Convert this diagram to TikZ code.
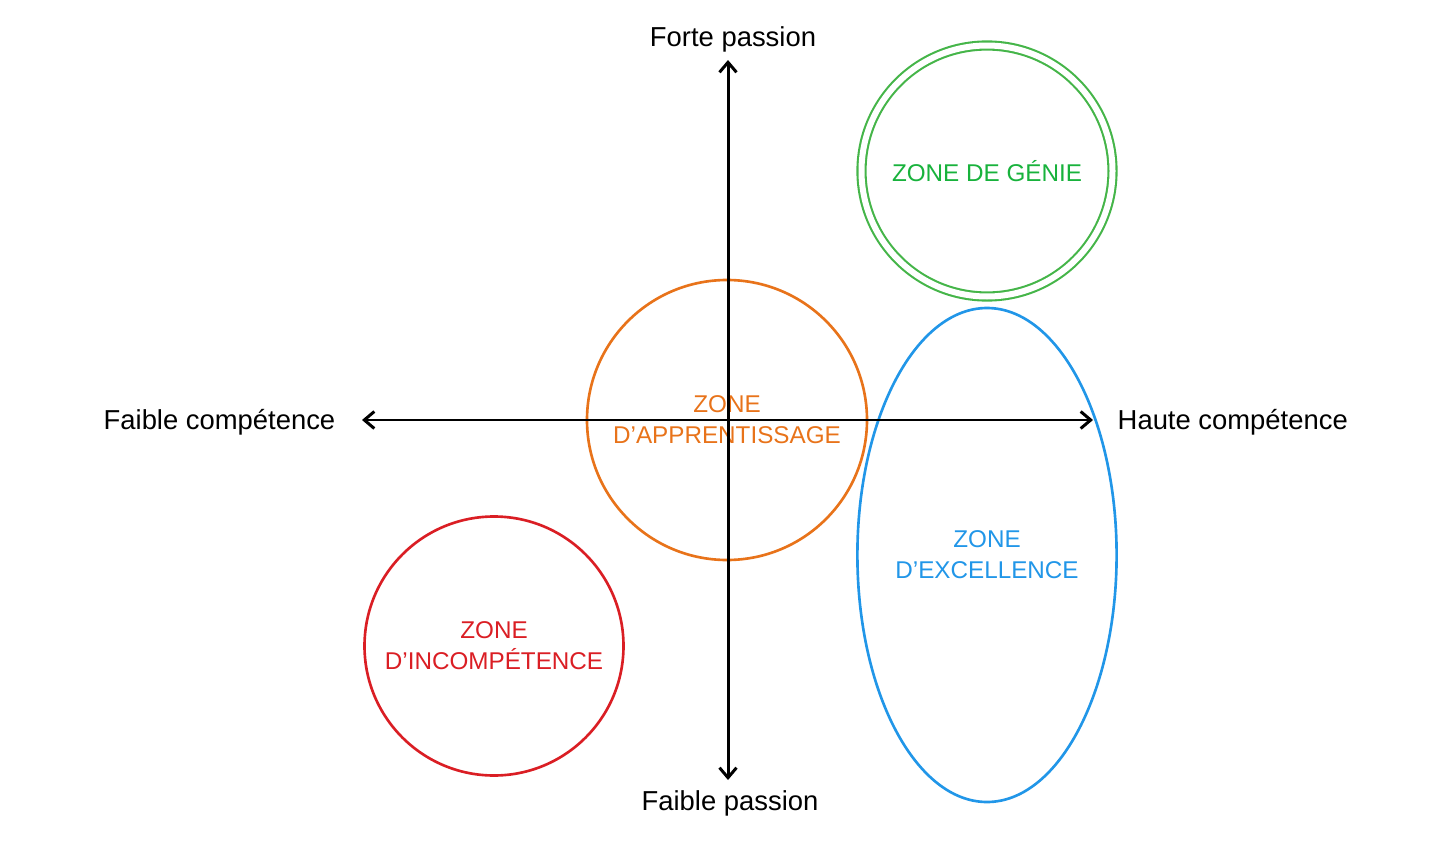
\documentclass[tikz,border=0pt]{standalone}
\usepackage{fontspec}
\setmainfont{Liberation Sans}
\usetikzlibrary{arrows.meta, shapes.geometric}
\tikzset{>={Straight Barb[length=1mm,width=1.7mm]}}
\definecolor{zoneOrange}{HTML}{E8731A}
\definecolor{zoneRed}{HTML}{DA1E24}
\definecolor{zoneGreen}{HTML}{45B549}
\definecolor{zoneGreenText}{HTML}{18B23C}
\definecolor{zoneBlue}{HTML}{2196E8}

\begin{document}
\begin{tikzpicture}[
    x = 0.1mm, y = -0.1mm,
    axis/.style = {line width = 0.85pt, <->},
    axis_label/.style = {inner sep = 0pt, font = \fontsize{7.8}{9}\selectfont},
    zone/.style = {line width = 0.75pt, align = center, inner sep = 0pt,
      font = \fontsize{6.9}{8.8}\selectfont}
  ]
    \useasboundingbox (0, 0) rectangle (1456, 845);
    % zones
    \node[zone, circle, draw = zoneOrange, text = zoneOrange, minimum size = 28mm]
      (apprentissage) at (727, 420) {ZONE\\D’APPRENTISSAGE};
    \node[zone, circle, draw = zoneRed, text = zoneRed, minimum size = 25.9mm]
      (incompetence) at (494, 646) {ZONE\\D’INCOMPÉTENCE};
    \node[zone, circle, draw = zoneGreen, double = white, double distance = 0.6mm,
      line width = 0.6pt, text = zoneGreenText, minimum size = 25.1mm]
      (genie) at (987, 171) {ZONE DE GÉNIE};
    \node[zone, ellipse, draw = zoneBlue, text = zoneBlue,
      minimum width = 25.8mm, minimum height = 49.4mm]
      (excellence) at (987, 555) {ZONE\\D’EXCELLENCE};
    % axes
    \coordinate (west) at (362, 420);
    \coordinate (east) at (1093, 420);
    \coordinate (north) at (728, 60);
    \coordinate (south) at (728, 780);
    \draw[axis] (west) -- (east);
    \draw[axis] (north) -- (south);
    \node[axis_label, anchor = east] (faible_competence) at (336, 422) {Faible compétence};
    \node[axis_label, anchor = west] (haute_competence) at (1117, 422) {Haute compétence};
    \node[axis_label] (forte_passion) at (733, 39) {Forte passion};
    \node[axis_label] (faible_passion) at (730, 803) {Faible passion};
\end{tikzpicture}
\end{document}
